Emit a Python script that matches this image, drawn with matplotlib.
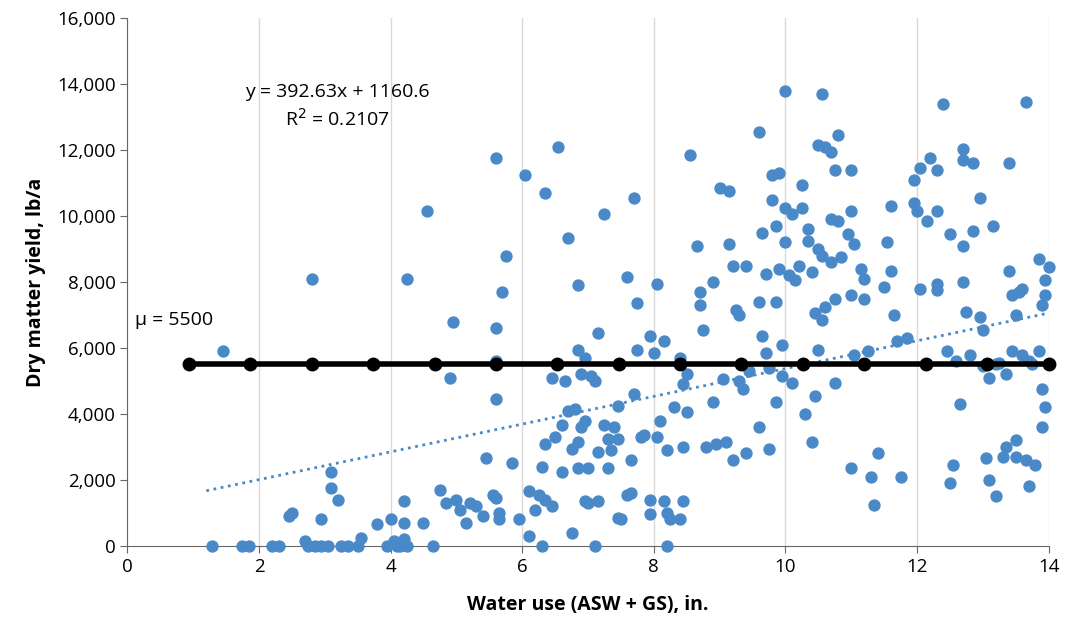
import numpy as np
import matplotlib.pyplot as plt

plt.rcParams['font.family'] = ['Open Sans', 'DejaVu Sans']

# observations: water use (in.) and dry matter yield (lb/a)
pts = [
 (1.28,0),(1.75,0),(1.85,0),(2.2,0),(2.3,0),(2.75,0),(2.85,0),(2.95,0),(3.05,0),(3.25,0),
 (3.35,0),(3.5,0),(3.95,0),(4.1,0),(4.15,0),(4.25,0),(4.65,0),(6.3,0),(7.1,0),(8.2,0),
 (2.45,900),(2.5,1000),(2.7,150),(2.95,800),(3.1,2250),(3.1,1750),(3.2,1400),(3.55,250),
 (3.8,650),(4.0,800),(4.05,150),(4.2,1350),(4.2,700),(4.2,200),(4.5,700),(4.75,1700),
 (4.85,1300),(4.9,5100),(4.95,6800),(5.0,1400),(5.05,1100),(5.15,700),(5.2,1300),(5.3,1200),
 (5.4,900),(5.45,2650),(5.55,1550),(5.6,1450),(5.65,1000),(5.65,800),(5.6,4450),(5.6,6600),
 (5.6,11750),(5.7,7700),(5.75,8800),(5.85,2500),(5.95,800),(6.05,11250),(6.1,1650),(6.1,300),
 (6.2,1100),(6.25,1550),(6.3,2400),(6.35,3100),(6.35,1400),(6.35,10700),(6.45,5100),(6.45,1200),
 (6.5,3300),(6.55,12100),(6.6,3650),(6.6,2250),(6.65,5000),(6.7,4100),(6.7,9350),(6.75,2950),
 (6.75,400),(6.8,4150),(6.85,3150),(6.85,5950),(6.85,7900),(6.85,2350),(6.9,3600),(6.9,5200),
 (6.95,1350),(6.95,3800),(6.95,5700),(7.0,1300),(7.0,2350),(7.05,5150),(7.1,5000),(7.15,6450),
 (7.15,1350),(7.15,2850),(7.25,10050),(7.25,3650),(7.3,3250),(7.3,2350),(7.35,2900),(7.4,3600),
 (7.45,3250),(7.45,4250),(7.45,850),(7.5,800),(7.6,8150),(7.6,1550),(7.65,1600),(7.65,2600),
 (7.7,10550),(7.7,4600),(7.75,7350),(7.75,5950),(7.8,3300),(7.85,3350),(7.95,1400),(7.95,950),
 (7.95,6350),(8.0,5850),(8.05,7950),(8.05,3300),(8.1,3800),(8.15,1350),(8.15,6200),(8.2,2900),
 (8.2,1000),(8.25,800),(8.3,4200),(8.4,5700),(8.4,800),(8.45,3000),(8.45,4900),(8.45,1350),
 (8.5,5200),(8.5,4050),(8.55,11850),(8.65,9100),(8.7,7700),(8.7,7300),(8.75,6550),(8.8,3000),
 (8.9,4350),(8.9,8000),(8.95,3100),(9.0,10850),(9.05,5050),(9.1,3150),(9.15,10750),(9.15,9150),
 (9.2,2600),(9.2,8500),(9.25,7150),(9.3,7000),(9.3,5000),(9.35,4750),(9.4,2800),(9.4,8500),
 (9.45,5300),(9.6,12550),(9.6,7400),(9.6,3600),(9.65,9500),(9.65,6350),(9.7,8250),(9.7,5850),
 (9.75,5400),(9.75,2950),(9.8,11250),(9.8,10500),(9.85,9700),(9.85,4350),(9.85,7400),(9.9,11300),
 (9.9,8400),(9.95,6100),(9.95,5150),(10.0,13800),(10.0,10250),(10.0,9200),(10.05,8200),(10.1,10050),
 (10.1,4950),(10.15,8050),(10.2,8500),(10.25,10950),(10.25,10250),(10.3,4000),(10.35,9600),(10.35,9250),
 (10.4,8300),(10.4,3150),(10.45,7050),(10.45,4550),(10.5,12150),(10.5,9000),(10.5,5950),(10.55,13700),
 (10.55,8800),(10.55,6850),(10.6,12100),(10.6,7250),(10.7,11950),(10.7,9900),(10.7,8600),(10.75,11400),
 (10.75,7500),(10.75,4950),(10.8,12450),(10.8,9850),(10.85,8750),(10.95,9450),(11.0,11400),(11.0,10150),
 (11.0,7600),(11.05,9150),(11.05,5800),(11.0,2350),(11.15,8400),(11.2,8100),(11.2,7500),(11.25,5900),
 (11.3,2100),(11.35,1250),(11.4,2800),(11.5,7850),(11.55,9200),(11.6,10300),(11.6,8350),(11.65,7000),
 (11.7,6200),(11.75,2100),(11.85,6300),(11.95,11100),(11.95,10400),(12.0,10150),(12.05,11450),(12.05,7800),
 (12.15,9850),(12.2,11750),(12.3,11400),(12.3,10150),(12.3,7950),(12.3,7750),(12.4,13400),(12.45,5900),
 (12.5,9450),(12.55,2450),(12.5,1900),(12.6,5600),(12.65,4300),(12.7,11700),(12.7,12050),(12.7,9100),
 (12.7,8000),(12.75,7100),(12.8,5800),(12.85,11600),(12.85,9550),(12.95,10550),(12.95,6950),(13.0,6550),
 (13.0,5450),(13.05,2650),(13.1,5100),(13.1,2000),(13.15,9700),(13.2,1500),(13.2,5500),(13.25,5550),
 (13.3,2700),(13.35,3000),(13.35,5200),(13.4,11600),(13.4,8350),(13.45,7600),(13.45,5900),(13.5,7000),
 (13.5,3200),(13.5,2700),(13.55,7700),(13.6,5800),(13.6,7800),(13.65,13450),(13.65,2600),(13.7,5600),
 (13.7,1800),(13.75,5500),(13.8,2450),(13.85,5900),(13.85,8700),(13.9,4750),(13.9,3600),(13.95,8050),
 (13.9,7300),(13.95,4200),(13.95,7600),(14.0,8450),(1.45,5900),(2.8,8100),(4.25,8100),(4.55,10150),(5.6,5600),
]
water = [p[0] for p in pts]
yield_ = [p[1] for p in pts]

mean_yield = 5500
mean_x = [0.93, 1.87, 2.8, 3.73, 4.67, 5.6, 6.53, 7.47, 8.4, 9.33, 10.27, 11.2, 12.13, 13.07, 14.0]
# dotted trendline as drawn (end points)
trend_x = [1.2, 14.0]
trend_y = [1670, 7060]

fig = plt.figure(figsize=(10.70, 6.31), dpi=100)
ax = fig.add_axes([0.119, 0.135, 0.861, 0.836])

ax.grid(axis='x', color='#d9d9d9', lw=1)
ax.set_axisbelow(True)
ax.scatter(water, yield_, s=62, color='#4a89c8', zorder=3, clip_on=False)
ax.plot(trend_x, trend_y, ':', color='#4a89c8', lw=2, zorder=4)
ax.plot(mean_x, [mean_yield] * len(mean_x), '-o', color='black', lw=4, ms=9, zorder=5, clip_on=False)

ax.text(3.19, 13750, 'y = 392.63x + 1160.6', ha='center', va='center', fontsize=14)
ax.text(3.19, 12950, 'R$^2$ = 0.2107', ha='center', va='center', fontsize=14)
ax.text(0.12, 6850, 'μ = 5500', ha='left', va='center', fontsize=14)

ax.set_xlim(0, 14)
ax.set_ylim(0, 16000)
ax.set_xticks(range(0, 15, 2))
ax.set_yticks(range(0, 16001, 2000))
ax.set_yticklabels([f'{v:,}' for v in range(0, 16001, 2000)])
ax.tick_params(labelsize=13.5, color='#666666', length=5)
for s in ['top', 'right']:
    ax.spines[s].set_visible(False)
for s in ['left', 'bottom']:
    ax.spines[s].set_color('#666666')
ax.set_xlabel('Water use (ASW + GS), in.', fontsize=14, fontweight='bold', labelpad=14)
ax.set_ylabel('Dry matter yield, lb/a', fontsize=14, fontweight='bold', labelpad=8)

fig.savefig('out.png')
